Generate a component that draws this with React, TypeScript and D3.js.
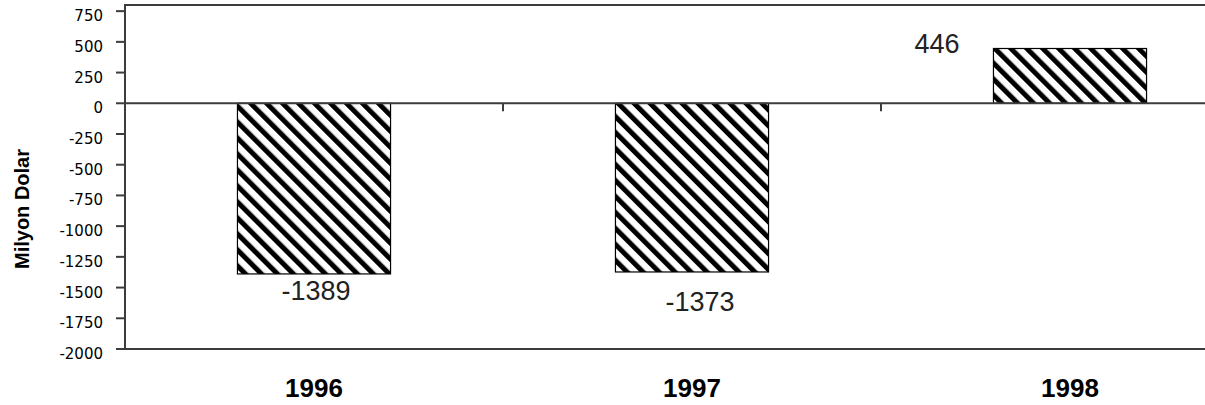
import React, { useEffect, useRef } from 'react';
import * as d3 from 'd3';

// chart data
const years = ['1996', '1997', '1998'];
const balance = [-1389, -1373, 446];
const yTicks = [750, 500, 250, 0, -250, -500, -750, -1000, -1250, -1500, -1750, -2000];
const yTitle = 'Milyon Dolar';

// hand-placed label nudges (dx, dy from bar end), like the original
const labelNudge = [
  { dx: 2, dy: 26 },
  { dx: 8, dy: 39 },
  { dx: -133, dy: 5 },
];

const App = () => {
  const svgRef = useRef<SVGSVGElement>(null);

  useEffect(() => {
    const width = 1205;
    const height = 405;
    const left = 125;
    const step = 378;
    const top = 5;
    const bottom = 349;
    const lineColor = '#3c3c3c';

    const svg = d3.select(svgRef.current)
      .attr('width', width)
      .attr('height', height);

    svg.selectAll('*').remove();

    // hatch pattern
    const defs = svg.append('defs');
    const pat = defs.append('pattern')
      .attr('id', 'hatch')
      .attr('patternUnits', 'userSpaceOnUse')
      .attr('width', 11.3)
      .attr('height', 11.3)
      .attr('patternTransform', 'rotate(-45)');
    pat.append('rect').attr('width', 11.3).attr('height', 11.3).attr('fill', '#fff');
    pat.append('rect').attr('width', 5).attr('height', 11.3).attr('fill', '#000');

    const x = d3.scaleBand()
      .domain(years)
      .range([left, left + step * years.length])
      .paddingInner(0.595)
      .paddingOuter(0.2975);

    const y = d3.scaleLinear()
      .domain([-2000, 800])
      .range([bottom, top]);

    // frame lines
    const xEnd = left + step * years.length;
    svg.append('line')
      .attr('x1', left).attr('x2', xEnd)
      .attr('y1', top).attr('y2', top)
      .attr('stroke', lineColor).attr('stroke-width', 2);
    svg.append('line')
      .attr('x1', left).attr('x2', xEnd)
      .attr('y1', bottom).attr('y2', bottom)
      .attr('stroke', lineColor).attr('stroke-width', 2);

    // bars
    svg.selectAll('.bar')
      .data(balance)
      .enter()
      .append('rect')
      .attr('class', 'bar')
      .attr('x', (d, i) => x(years[i])!)
      .attr('width', x.bandwidth())
      .attr('y', d => y(Math.max(d, 0)))
      .attr('height', d => Math.abs(y(d) - y(0)))
      .attr('fill', 'url(#hatch)')
      .attr('stroke', '#000')
      .attr('stroke-width', 1.2);

    // zero line
    svg.append('line')
      .attr('x1', left).attr('x2', xEnd)
      .attr('y1', y(0)).attr('y2', y(0))
      .attr('stroke', lineColor).attr('stroke-width', 2);

    // category boundary ticks on zero line
    d3.range(1, years.length).forEach(i => {
      const bx = left + step * i;
      svg.append('line')
        .attr('x1', bx).attr('x2', bx)
        .attr('y1', y(0)).attr('y2', y(0) + 8)
        .attr('stroke', lineColor).attr('stroke-width', 2);
    });

    // y axis
    svg.append('line')
      .attr('x1', left).attr('x2', left)
      .attr('y1', top - 1).attr('y2', bottom + 1)
      .attr('stroke', lineColor).attr('stroke-width', 2);

    const tickG = svg.append('g');
    yTicks.forEach(t => {
      tickG.append('line')
        .attr('x1', left - 9).attr('x2', left)
        .attr('y1', y(t)).attr('y2', y(t))
        .attr('stroke', lineColor).attr('stroke-width', 2);
      tickG.append('text')
        .attr('x', 103)
        .attr('y', y(t) + 10)
        .attr('text-anchor', 'end')
        .attr('font-family', 'DejaVu Sans')
        .attr('font-size', 15)
        .attr('fill', '#000')
        .text(t);
    });

    // y title
    svg.append('text')
      .attr('transform', `translate(29,209) rotate(-90)`)
      .attr('text-anchor', 'middle')
      .attr('font-family', 'Liberation Sans')
      .attr('font-weight', 'bold')
      .attr('font-size', 20)
      .attr('fill', '#000')
      .text(yTitle);

    // category labels
    svg.selectAll('.cat')
      .data(years)
      .enter()
      .append('text')
      .attr('class', 'cat')
      .attr('x', d => x(d)! + x.bandwidth() / 2)
      .attr('y', 397)
      .attr('text-anchor', 'middle')
      .attr('font-family', 'Liberation Sans')
      .attr('font-weight', 'bold')
      .attr('font-size', 26)
      .attr('fill', '#000')
      .text(d => d);

    // value labels
    svg.selectAll('.val')
      .data(balance)
      .enter()
      .append('text')
      .attr('class', 'val')
      .attr('x', (d, i) => x(years[i])! + x.bandwidth() / 2 + labelNudge[i].dx)
      .attr('y', (d, i) => y(d) + labelNudge[i].dy)
      .attr('text-anchor', 'middle')
      .attr('font-family', 'Liberation Sans')
      .attr('font-size', 27)
      .attr('fill', '#222')
      .text(d => d);
  }, []);

  return (
    <div style={{ position: 'absolute', left: 0, top: 0 }}>
      <svg ref={svgRef} width={1205} height={405} style={{ display: 'block' }}></svg>
    </div>
  );
};

export default App;
